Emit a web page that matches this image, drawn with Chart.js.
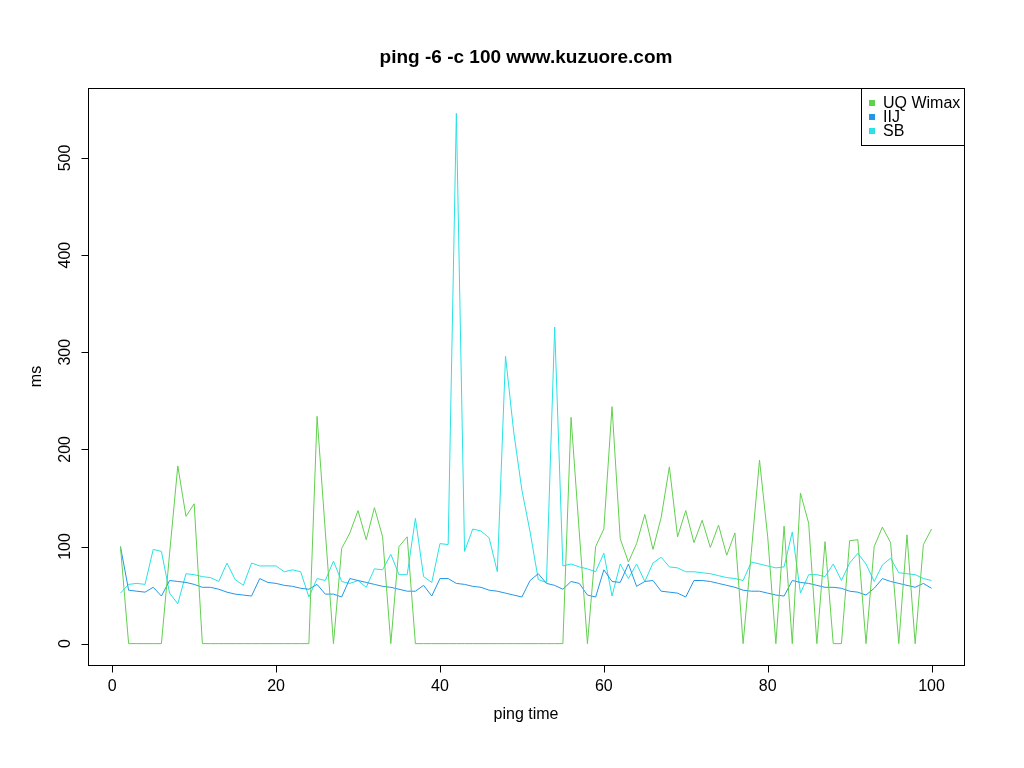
<!DOCTYPE html>
<html>
<head>
<meta charset="utf-8">
<script src="https://cdn.jsdelivr.net/npm/chart.js@4.4.1/dist/chart.umd.min.js"></script>
<style>
  html, body { margin: 0; padding: 0; background: #fff; }
  canvas { display: block; }
</style>
</head>
<body>
<canvas id="pingChart" width="1024" height="768"></canvas>
<script>
// ping number 1..100
const pingTime = Array.from({length: 100}, (_, i) => i + 1);

const uqWimax = [100, 0, 0, 0, 0, 0, 93, 183, 131, 144,
  0, 0, 0, 0, 0, 0, 0, 0, 0, 0, 0, 0, 0, 0,
  234, 116, 0, 98, 114, 137, 107, 140, 110, 0, 100, 110,
  0, 0, 0, 0, 0, 0, 0, 0, 0, 0, 0, 0, 0, 0, 0, 0, 0, 0, 0,
  233, 115, 0, 100, 118, 244, 108, 84, 103, 133, 97, 130, 182, 110, 137,
  104, 127, 99, 122, 91, 114, 0, 94, 189, 110, 0, 121, 0, 155, 124,
  0, 105, 0, 0, 106, 107, 0, 100, 120, 104, 0, 112, 0, 102, 118];

const iij = [100, 55, 54, 53, 58, 49, 65, 64, 63, 61,
  58, 58, 56, 53, 51, 50, 49, 67, 63, 62,
  60, 59, 57, 56, 61, 51, 51, 48, 67, 65,
  63, 61, 59, 58, 56, 54, 54, 60, 49, 67,
  67, 62, 61, 59, 58, 55, 54, 52, 50, 48,
  65, 72, 62, 60, 56, 64, 62, 50, 48, 76,
  64, 63, 82, 59, 64, 65, 54, 53, 52, 48,
  65, 65, 64, 62, 60, 58, 55, 54, 54, 52,
  50, 49, 65, 63, 62, 60, 58, 58, 57, 54,
  53, 50, 57, 67, 64, 62, 60, 58, 62, 57];

const sb = [52, 61, 62, 61, 97, 95, 52, 41, 72, 71,
  69, 68, 64, 83, 66, 60, 83, 80, 80, 80,
  74, 76, 74, 48, 67, 65, 85, 64, 62, 65,
  58, 77, 76, 92, 71, 71, 129, 69, 63, 103,
  102, 546, 95, 118, 116, 109, 74, 296, 218, 158,
  115, 66, 63, 326, 80, 82, 79, 77, 74, 93,
  49, 82, 67, 82, 64, 83, 89, 79, 78, 74,
  74, 73, 72, 70, 68, 67, 65, 84, 82, 80,
  78, 79, 115, 52, 71, 71, 69, 82, 65, 83,
  93, 82, 64, 81, 88, 73, 72, 71, 67, 65];

const seriesNames = ['UQ Wimax', 'IIJ', 'SB'];
const seriesColors = ['#61D04F', '#2297E6', '#28E2E5'];
const xTicks = [0, 20, 40, 60, 80, 100];
const yTicks = [0, 100, 200, 300, 400, 500];

const chartTitle = 'ping -6 -c 100 www.kuzuore.com';
const xTitle = 'ping time';
const yTitle = 'ms';

const FONT = '"Liberation Sans", Arial, Helvetica, sans-serif';

function toPoints(values) {
  return values.map((v, i) => ({x: pingTime[i], y: v}));
}

// R base graphics look: box, outward ticks, rotated y labels, legend
const rStyle = {
  id: 'rStyle',
  afterDraw(chart) {
    const ctx = chart.ctx;
    const a = chart.chartArea;
    const xs = chart.scales.x, ys = chart.scales.y;
    ctx.save();
    ctx.strokeStyle = '#000';
    ctx.fillStyle = '#000';
    ctx.lineWidth = 1;

    // plot box
    ctx.strokeRect(Math.round(a.left) + 0.5, Math.round(a.top) + 0.5,
      Math.round(a.right - a.left), Math.round(a.bottom - a.top));

    // x axis ticks
    ctx.font = '16px ' + FONT;
    ctx.textAlign = 'center';
    ctx.textBaseline = 'middle';
    const yb = Math.round(a.bottom) + 0.5;
    ctx.beginPath();
    xTicks.forEach(t => {
      const px = Math.round(xs.getPixelForValue(t)) + 0.5;
      ctx.moveTo(px, yb);
      ctx.lineTo(px, yb + 7);
    });
    ctx.stroke();
    xTicks.forEach(t => {
      ctx.fillText(String(t), xs.getPixelForValue(t), yb + 21);
    });

    // y axis ticks
    const xl = Math.round(a.left) + 0.5;
    ctx.beginPath();
    yTicks.forEach(t => {
      const py = Math.round(ys.getPixelForValue(t)) + 0.5;
      ctx.moveTo(xl, py);
      ctx.lineTo(xl - 7, py);
    });
    ctx.stroke();
    yTicks.forEach(t => {
      ctx.save();
      ctx.translate(xl - 23, ys.getPixelForValue(t));
      ctx.rotate(-Math.PI / 2);
      ctx.fillText(String(t), 0, 0);
      ctx.restore();
    });

    // axis titles
    ctx.fillText(xTitle, (a.left + a.right) / 2, 715);
    ctx.save();
    ctx.translate(37, (a.top + a.bottom) / 2);
    ctx.rotate(-Math.PI / 2);
    ctx.fillText(yTitle, 0, 0);
    ctx.restore();

    // main title
    ctx.font = 'bold 19px ' + FONT;
    ctx.fillText(chartTitle, (a.left + a.right) / 2, 58);

    // legend
    ctx.font = '16px ' + FONT;
    ctx.textAlign = 'left';
    const lw = 103, lh = 57;
    const lx = Math.round(a.right) - lw, ly = Math.round(a.top);
    ctx.fillStyle = '#fff';
    ctx.fillRect(lx, ly, lw, lh);
    ctx.strokeStyle = '#000';
    ctx.strokeRect(lx + 0.5, ly + 0.5, lw, lh);
    seriesNames.forEach((name, i) => {
      const cy = ly + 15 + i * 14;
      ctx.fillStyle = seriesColors[i];
      ctx.fillRect(lx + 8, Math.round(cy) - 3, 6, 6);
      ctx.fillStyle = '#000';
      ctx.fillText(name, lx + 22, cy + 1);
    });
    ctx.restore();
  }
};

new Chart(document.getElementById('pingChart'), {
  type: 'line',
  data: {
    datasets: [
      {label: seriesNames[0], data: toPoints(uqWimax)},
      {label: seriesNames[1], data: toPoints(iij)},
      {label: seriesNames[2], data: toPoints(sb)}
    ].map((d, i) => Object.assign(d, {
      borderColor: seriesColors[i],
      backgroundColor: seriesColors[i],
      borderWidth: 1,
      pointRadius: 0,
      tension: 0,
      fill: false
    }))
  },
  options: {
    responsive: false,
    animation: false,
    layout: {padding: {left: 88, top: 88, right: 60, bottom: 103}},
    plugins: {
      legend: {display: false},
      title: {display: false},
      tooltip: {enabled: false}
    },
    scales: {
      x: {type: 'linear', display: false, min: -2.96, max: 103.96},
      y: {type: 'linear', display: false, min: -22, max: 572.1}
    }
  },
  plugins: [rStyle]
});
</script>
</body>
</html>
